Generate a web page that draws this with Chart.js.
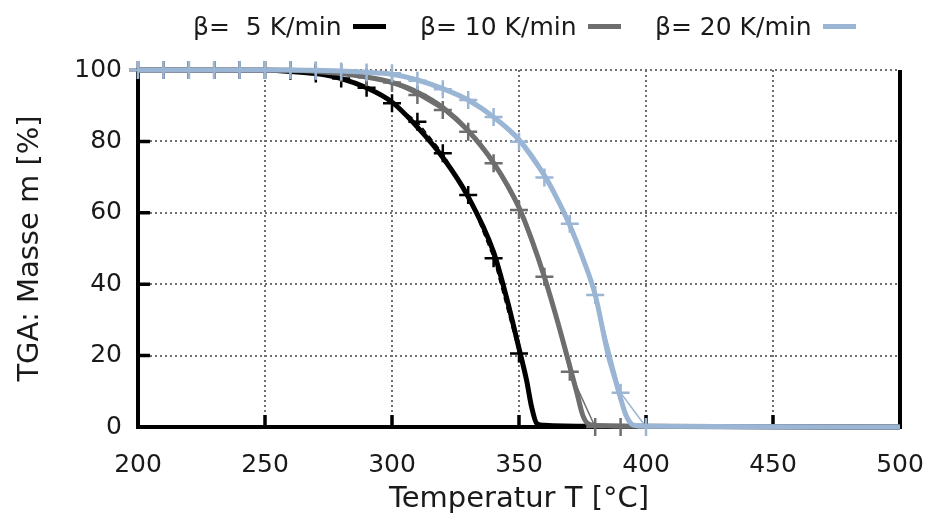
<!DOCTYPE html>
<html>
<head>
<meta charset="utf-8">
<script src="https://cdn.jsdelivr.net/npm/chart.js@4/dist/chart.umd.min.js"></script>
<style>
body{margin:0;background:#fff;}
#wrap{position:relative;width:932px;height:520px;}
#legend{position:absolute;top:9px;left:0;width:932px;height:36px;font-family:"DejaVu Sans",sans-serif;font-size:25px;color:#1a1a1a;}
#legend .item{position:absolute;top:0;white-space:pre;line-height:36px;}
#legend .swatch{display:inline-block;width:33px;height:5px;vertical-align:middle;margin-left:11px;margin-top:-3px;}
</style>
</head>
<body>
<div id="wrap">
<canvas id="tga" width="932" height="520"></canvas>
<div id="legend"></div>
</div>
<script>
/* heating rates */
const names=["β=  5 K/min","β= 10 K/min","β= 20 K/min"];
const colors=["#000000","#6e6e6e","#9bb5d4"];

/* fitted curves */
const fitT5=[200,250,260,270,280,290,300,310,320,330,340,345,350,353,355,357,360,380,500];
const fit5=[100,99.9,99.6,99,97.6,95,91,84,75.5,64.5,49,36.5,22,13,5.5,1,0.5,0.2,0];

const fitT10=[200,250,260,270,280,290,300,310,320,330,340,350,355,360,365,370,373,375,377,380,400,500];
const fit10=[100,100,99.9,99.6,99,98,96.5,93.8,89.5,83,74,61.5,52.5,42,30,17,9,3.5,1,0.4,0.2,0];

const fitT20=[200,260,270,280,290,300,310,320,330,340,350,360,365,370,375,380,385,388,390,392,394,396,400,500];
const fit20=[100,100,99.9,99.7,99.4,98.8,97.2,94.8,91.6,86.8,80.5,70.5,64,56.5,47.5,37,20.5,13,8,3.5,1,0.4,0.2,0];

/* measured points */
const markT5=[200,210,220,230,240,250,260,270,280,290,300,310,320,330,340,350];
const mark5=[100,100,100,100,100,100,99.8,99,97.6,95,90.7,85.5,76.7,65,47.3,20.6];

const markT10=[200,210,220,230,240,250,260,270,280,290,300,310,320,330,340,350,360,370,380,390];
const mark10=[100,100,100,100,100,100,100,99.8,99.2,98,96.5,93,88.8,82.7,73.9,60.8,42.1,15.5,0,0];

const markT20=[200,210,220,230,240,250,260,270,280,290,300,310,320,330,340,350,360,370,380,390,400];
const mark20=[100,100,100,100,100,100,100,99.8,99.6,99.3,99.1,97,94.6,91.6,86.8,79.9,69.9,56.9,37,9.6,0];

const xTicks=[200,250,300,350,400,450,500];
const yTicks=[0,20,40,60,80,100];

const pts=(xs,ys)=>xs.map((x,i)=>({x:x,y:ys[i]}));

/* legend: text first, line sample after it */
const legendPos=[193,420,655];
const legend=document.getElementById("legend");
names.forEach((n,i)=>{
let d=document.createElement("span");
d.className="item";
d.style.left=legendPos[i]+"px";
d.textContent=n;
let s=document.createElement("span");
s.className="swatch";
s.style.background=colors[i];
d.appendChild(s);
legend.appendChild(d);
});

function fitSet(xs,ys,c){
return {data:pts(xs,ys),borderColor:c,borderWidth:5,pointRadius:0,
cubicInterpolationMode:"monotone",fill:false,clip:false};
}
function markSet(xs,ys,c,dash){
return {data:pts(xs,ys),borderColor:c,borderWidth:1.5,borderDash:dash,
pointStyle:"cross",pointRadius:9,pointBorderWidth:2.5,pointBorderColor:c,
pointBackgroundColor:c,fill:false,clip:false,tension:0};
}

/* inward ticks + right frame */
const frame={
id:"frame",
beforeDatasetsDraw(chart){
const {ctx,chartArea:a,scales:{x,y}}=chart;
ctx.save();
ctx.strokeStyle="#000";
ctx.lineWidth=3.5;
ctx.beginPath();
yTicks.forEach(v=>{let py=y.getPixelForValue(v);ctx.moveTo(a.left,py);ctx.lineTo(a.left+12,py);});
xTicks.forEach(v=>{let px=x.getPixelForValue(v);ctx.moveTo(px,a.bottom);ctx.lineTo(px,a.bottom-12);});
ctx.stroke();
ctx.lineWidth=4;
ctx.beginPath();
ctx.moveTo(a.right,a.top);
ctx.lineTo(a.right,a.bottom+2);
ctx.stroke();
ctx.restore();
}
};

const font={family:"'DejaVu Sans', sans-serif",size:25};
const titleFont={family:"'DejaVu Sans', sans-serif",size:29};

new Chart(document.getElementById("tga"),{
type:"line",
data:{
datasets:[
markSet(markT20,mark20,colors[2],[]),
fitSet(fitT20,fit20,colors[2]),
markSet(markT10,mark10,colors[1],[]),
fitSet(fitT10,fit10,colors[1]),
markSet(markT5,mark5,colors[0],[6,4]),
fitSet(fitT5,fit5,colors[0])
]
},
options:{
responsive:false,
animation:false,
layout:{padding:{top:70,right:32,left:0,bottom:0}},
plugins:{legend:{display:false},tooltip:{enabled:false}},
scales:{
x:{
type:"linear",min:200,max:500,
afterFit(s){s.height=93;s.paddingLeft=0;s.paddingRight=0;},
ticks:{stepSize:50,font:font,color:"#1a1a1a",padding:23,maxRotation:0},
grid:{color:"#6f6f6f",lineWidth:2,drawTicks:false},
border:{display:true,color:"#000",width:4,dash:[2,3]},
title:{display:true,text:"Temperatur T [°C]",font:titleFont,color:"#1a1a1a",padding:{top:0,bottom:3}}
},
y:{
min:0,max:100,
afterFit(s){s.width=138;s.paddingTop=0;s.paddingBottom=0;},
ticks:{stepSize:20,font:font,color:"#1a1a1a",padding:16},
grid:{color:"#6f6f6f",lineWidth:2,drawTicks:false},
border:{display:true,color:"#000",width:4,dash:[2,3]},
title:{display:true,text:"TGA: Masse m [%]",font:titleFont,color:"#1a1a1a",padding:{top:13,bottom:0}}
}
}
},
plugins:[frame]
});
</script>
</body>
</html>
